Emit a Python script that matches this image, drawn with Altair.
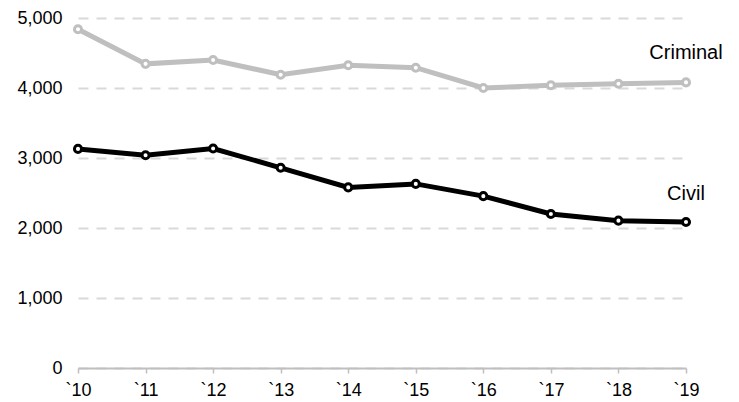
import altair as alt
import pandas as pd

years = ["`10", "`11", "`12", "`13", "`14", "`15", "`16", "`17", "`18", "`19"]
criminal = [4840, 4345, 4400, 4190, 4325, 4290, 4000, 4040, 4060, 4080]
civil = [3130, 3040, 3135, 2860, 2580, 2630, 2455, 2200, 2105, 2085]
series_names = ["Criminal", "Civil"]
series_colors = ["#bfbfbf", "#000000"]
label_values = [4500, 2490]

rows = []
for name, vals in zip(series_names, [criminal, civil]):
    for y, v in zip(years, vals):
        rows.append({"year": y, "value": v, "series": name})
df = pd.DataFrame(rows)

labels_df = pd.DataFrame({"year": [years[-1]] * 2, "value": label_values, "series": series_names})

FONT = "Liberation Sans"

x = alt.X("year:O", sort=years, scale=alt.Scale(type="point", padding=0),
          axis=alt.Axis(title=None, labelAngle=0, labelFontSize=18, labelColor="#000000",
                        labelFont=FONT, domainColor="#bfbfbf", domainWidth=2,
                        tickColor="#bfbfbf", tickWidth=1.5, tickSize=5, labelPadding=8,
                        grid=False))
y = alt.Y("value:Q", scale=alt.Scale(domain=[0, 5000], nice=False),
          axis=alt.Axis(title=None, values=[0, 1000, 2000, 3000, 4000, 5000], format=",.0f",
                        labelFontSize=18, labelColor="#000000", labelFont=FONT,
                        domain=False, ticks=False, labelPadding=16,
                        grid=True, gridColor="#d9d9d9", gridDash=[10, 8], gridWidth=2))
color = alt.Color("series:N", scale=alt.Scale(domain=series_names, range=series_colors), legend=None)

lines = alt.Chart(df).mark_line(strokeWidth=5).encode(x=x, y=y, color=color, detail="series:N")
points = alt.Chart(df).mark_point(filled=False, fill="white", size=50, strokeWidth=3, opacity=1).encode(
    x=x, y=y, color=color)
texts = alt.Chart(labels_df).mark_text(fontSize=20, font=FONT, color="#000000", align="center",
                                       baseline="middle").encode(x=x, y=y, text="series:N")

chart = (lines + points + texts).properties(
    width=608, height=350,
    autosize=alt.AutoSizeParams(type="none"),
    padding={"left": 70, "top": 10, "right": 45, "bottom": 34},
).configure_view(stroke=None)

chart.save("out.html", embed_options={"renderer": "svg", "actions": False})
